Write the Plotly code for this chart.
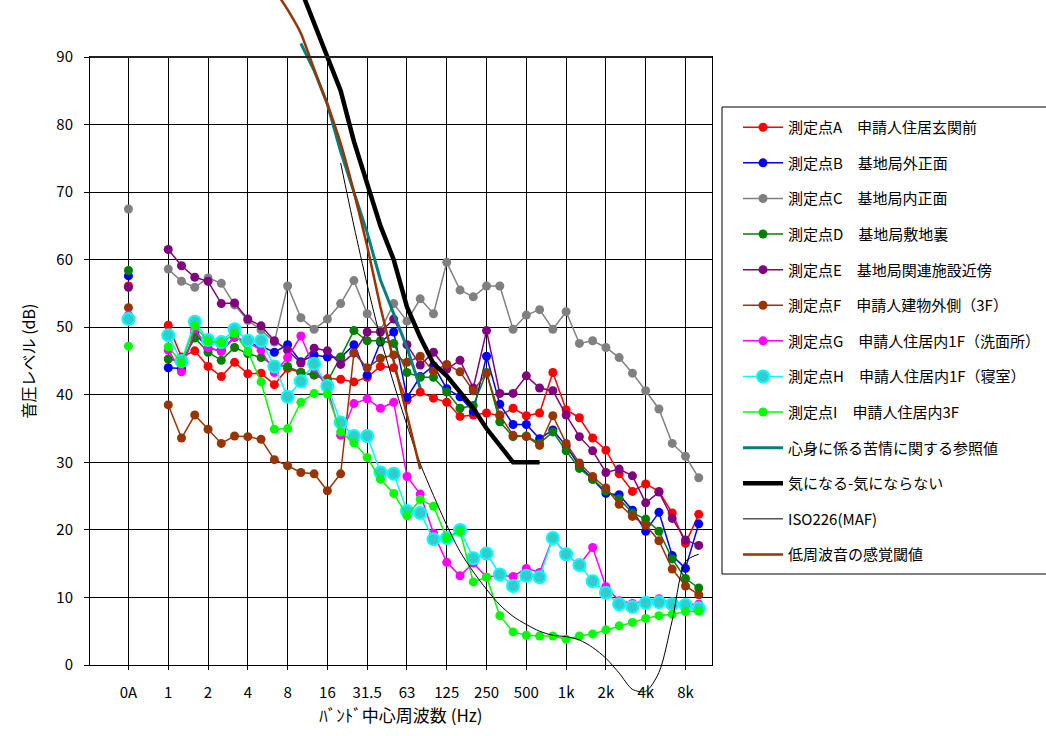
import plotly.graph_objects as go

# ---------------- data ----------------
bands = ["1", "1.25", "1.6", "2", "2.5", "3.15", "4", "5", "6.3", "8", "10", "12.5",
         "16", "20", "25", "31.5", "40", "50", "63", "80", "100", "125", "160", "200",
         "250", "315", "400", "500", "630", "800", "1k", "1.25k", "1.6k", "2k", "2.5k",
         "3.15k", "4k", "5k", "6.3k", "8k", "10k"]
tick_labels = ["0A", "1", "2", "4", "8", "16", "31.5", "63", "125", "250", "500",
               "1k", "2k", "4k", "8k"]

# first value = 0A (overall), then the 41 one-third octave bands
pt_A = [56.1, 50.3, 45.6, 46.5, 44.2, 42.7, 44.8, 43.1, 43.2, 41.5, 43.9, 43.3, 42.9, 42.4,
        42.3, 41.9, 42.6, 44.2, 44.0, 39.2, 40.4, 39.5, 38.9, 36.8, 37.0, 37.3, 36.9, 38.0,
        36.9, 37.3, 43.3, 37.8, 36.6, 33.6, 31.8, 28.3, 25.7, 26.8, 25.7, 22.5, 18.0, 22.3]
pt_B = [57.6, 44.0, 43.9, 49.2, 46.8, 46.6, 48.5, 47.6, 47.2, 46.3, 47.4, 44.9, 45.9, 45.6,
        45.5, 47.4, 42.9, 47.8, 49.3, 39.6, 42.7, 44.3, 40.9, 39.7, 37.5, 45.7, 38.6, 35.6,
        35.6, 33.5, 34.8, 32.4, 29.5, 27.5, 25.4, 25.2, 22.9, 19.8, 22.6, 16.2, 14.3, 20.9]
pt_C = [67.5, 58.6, 56.8, 55.9, 57.3, 56.5, 53.3, 51.0, 49.6, 47.8, 56.1, 51.4, 49.7, 51.2,
        53.5, 56.9, 52.0, 49.5, 53.5, 50.9, 54.2, 52.0, 59.6, 55.5, 54.5, 56.1, 56.1, 49.7,
        51.8, 52.6, 49.7, 52.3, 47.6, 48.0, 47.0, 45.5, 43.2, 40.6, 37.9, 32.8, 30.9, 27.7]
pt_D = [58.4, 45.3, 44.9, 48.4, 46.3, 45.1, 47.0, 46.1, 45.5, 44.4, 44.2, 43.3, 43.0, 42.0,
        45.6, 49.5, 48.0, 48.0, 47.6, 43.3, 42.6, 42.6, 40.4, 38.0, 38.4, 43.3, 36.0, 33.8,
        33.9, 32.8, 34.5, 31.7, 29.1, 27.5, 25.8, 24.6, 22.5, 21.6, 19.8, 15.7, 12.8, 11.4]
pt_E = [55.9, 61.5, 59.1, 57.4, 56.8, 53.5, 53.6, 51.2, 50.2, 48.0, 46.6, 44.7, 46.9, 46.5,
        44.5, 46.2, 49.3, 49.3, 51.2, 47.4, 44.4, 46.3, 43.8, 45.1, 41.0, 49.5, 40.2, 40.2,
        42.8, 41.0, 40.6, 37.0, 33.8, 31.7, 28.5, 29.0, 28.0, 24.0, 25.6, 21.7, 18.5, 17.7]
pt_F = [52.9, 38.5, 33.6, 37.0, 34.9, 32.8, 33.9, 33.8, 33.4, 30.4, 29.5, 28.5, 28.3, 25.8,
        28.3, 46.2, 44.0, 45.4, 45.9, 44.8, 45.7, 43.5, 44.5, 43.4, 40.6, 43.2, 37.0, 34.0,
        33.8, 32.5, 36.9, 32.8, 29.9, 27.9, 26.2, 23.8, 22.0, 20.7, 18.4, 14.2, 11.7, 10.4]
pt_G = [51.8, 46.6, 43.4, 49.7, 47.0, 46.4, 48.6, 47.8, 46.6, 43.3, 45.5, 48.7, 44.0, 41.0,
        34.0, 38.7, 39.4, 38.0, 38.9, 27.9, 25.3, 19.5, 15.2, 13.2, 15.1, 13.0, 13.3, 13.1,
        14.3, 13.7, 18.8, 16.4, 14.8, 17.4, 11.6, 9.5, 9.1, 9.5, 9.8, 9.2, 9.0, 9.0]
pt_H = [51.2, 48.8, 45.0, 50.8, 48.1, 47.8, 49.7, 48.0, 48.0, 44.2, 39.7, 42.0, 44.6, 41.3,
        35.9, 33.9, 33.9, 28.5, 28.3, 22.8, 22.5, 18.6, 18.8, 20.0, 15.8, 16.5, 13.4, 11.7,
        13.2, 13.0, 18.8, 16.4, 14.8, 12.4, 10.7, 9.0, 8.6, 9.2, 9.3, 9.0, 8.9, 8.4]
pt_I = [47.2, 47.1, 44.7, 50.2, 47.9, 47.7, 49.1, 46.4, 41.9, 34.9, 35.0, 38.9, 40.2, 40.1,
        34.5, 32.9, 30.7, 27.5, 25.4, 22.1, 24.5, 23.5, 18.8, 19.8, 12.3, 13.0, 7.3, 4.9,
        4.4, 4.3, 4.3, 3.8, 4.3, 4.6, 5.2, 5.8, 6.3, 6.9, 7.3, 7.5, 7.9, 8.0]

ref_bands = ["10", "12.5", "16", "20", "25", "31.5", "40", "50", "63", "80"]
ref_vals = [92, 88, 83, 76, 70, 64, 57, 52, 47, 41]

kini_bands = ["10", "12.5", "16", "20", "25", "31.5", "40", "50", "63", "80", "100", "125",
              "160", "200", "250", "315", "400", "500", "630"]
kini_vals = [100, 95, 90, 85, 77.5, 71.5, 65, 60, 53, 48.5, 44.6, 42.8, 40.5, 38, 35, 32.6,
             30, 30, 30]

iso_bands = ["20", "25", "31.5", "40", "50", "63", "80", "100", "125", "160", "200", "250",
             "315", "400", "500", "630", "800", "1k", "1.25k", "1.6k", "2k", "2.5k",
             "3.15k", "4k", "5k", "6.3k", "8k", "10k"]
iso_vals = [74.3, 65.0, 56.3, 48.4, 41.7, 35.5, 29.8, 25.1, 20.7, 16.8, 13.8, 11.2, 8.9,
            7.2, 6.0, 5.0, 4.4, 4.2, 3.7, 2.6, 1.0, -1.2, -3.6, -3.9, -1.1, 6.6, 15.3, 16.4]

thr_bands = ["6.3", "8", "10", "12.5", "16", "20", "25", "31.5", "40", "50", "63", "80"]
thr_vals = [100, 97, 93.5, 88.2, 83, 77.2, 70, 62, 53, 45, 37, 29]

series = [
    ("測定点A　申請人住居玄関前", pt_A, "#FF0000", "#FF0000", 9),
    ("測定点B　基地局外正面", pt_B, "#0000FF", "#0000FF", 9),
    ("測定点C　基地局内正面", pt_C, "#808080", "#808080", 9),
    ("測定点D　基地局敷地裏", pt_D, "#008000", "#008000", 9),
    ("測定点E　基地局関連施設近傍", pt_E, "#800080", "#800080", 9),
    ("測定点F　申請人建物外側（3F）", pt_F, "#993300", "#993300", 9),
    ("測定点G　申請人住居内1F（洗面所）", pt_G, "#FF00FF", "#FF00FF", 9),
    ("測定点H　申請人住居内1F（寝室）", pt_H, "#00FFFF", "#33CCCC", 12),
    ("測定点I　申請人住居内3F", pt_I, "#00FF00", "#00FF00", 9),
]

# ---------------- geometry ----------------
W, H = 1046, 736
PL, PR, PT, PB = 90, 712, 57, 665          # plot frame in px
YMIN, YMAX = 0, 90
XMIN, XMAX = -5.9, 41.0
k = (PB - PT) / (YMAX - YMIN)
OV_TOP, OV_BOT = 0, 706                    # unclipped drawing area for lines
ov_range = [YMIN - (OV_BOT - PB) / k, YMAX + (PT - OV_TOP) / k]

FONT = "Noto Sans CJK JP"


def pos(b):
    return bands.index(b)


fig = go.Figure()

# invisible trace so that the framed subplot (axes, grid, ticks) is drawn
fig.add_trace(go.Scatter(x=[None], y=[None], mode="markers", showlegend=False,
                         hoverinfo="skip", xaxis="x", yaxis="y"))

for name, vals, lc, mc, ms in series:
    xs = [-3, None] + list(range(len(bands)))
    ys = [vals[0], None] + vals[1:]
    mk = dict(size=ms, color=mc, symbol="circle",
              line=dict(color=lc if ms > 9 else mc, width=2 if ms > 9 else 0))
    fig.add_trace(go.Scatter(x=xs, y=ys, mode="lines+markers", name=name,
                             line=dict(color=lc, width=1.5), marker=mk,
                             connectgaps=False, xaxis="x2", yaxis="y2",
                             legendgroup=name))

fig.add_trace(go.Scatter(x=[pos(b) for b in ref_bands], y=ref_vals, mode="lines",
                         name="心身に係る苦情に関する参照値",
                         line=dict(color="#008080", width=3), xaxis="x2", yaxis="y2",
                         legendgroup="ref"))
fig.add_trace(go.Scatter(x=[pos(b) for b in kini_bands], y=kini_vals, mode="lines",
                         name="気になる-気にならない",
                         line=dict(color="#000000", width=4.5), xaxis="x2", yaxis="y2",
                         legendgroup="kini"))
fig.add_trace(go.Scatter(x=[pos(b) for b in iso_bands], y=iso_vals, mode="lines",
                         name="ISO226(MAF)",
                         line=dict(color="#000000", width=1, shape="spline", smoothing=0.8),
                         xaxis="x2", yaxis="y2", legendgroup="iso"))
fig.add_trace(go.Scatter(x=[pos(b) for b in thr_bands], y=thr_vals, mode="lines",
                         name="低周波音の感覚閾値",
                         line=dict(color="#993300", width=2.5, shape="spline", smoothing=0.6),
                         xaxis="x2", yaxis="y2", legendgroup="thr"))

tickvals = [-3] + [pos(t) for t in tick_labels[1:]]

fig.update_layout(
    width=W, height=H,
    margin=dict(l=0, r=0, t=0, b=0),
    paper_bgcolor="white", plot_bgcolor="rgba(0,0,0,0)",
    font=dict(family=FONT, size=15, color="#000"),
    showlegend=True,
    xaxis=dict(domain=[PL / W, PR / W], range=[XMIN, XMAX], tickvals=tickvals,
               ticktext=tick_labels, showgrid=True, gridcolor="#000", gridwidth=1,
               showline=True, linecolor="#000", linewidth=1, mirror=True,
               ticks="outside", ticklen=4, tickcolor="#000", zeroline=False,
               ticklabelstandoff=10, tickfont=dict(size=15),
               title=dict(text="ﾊﾞﾝﾄﾞ中心周波数 (Hz)", font=dict(size=17), standoff=9),
               automargin=False, fixedrange=True),
    yaxis=dict(domain=[(H - PB) / H, (H - PT) / H], range=[YMIN, YMAX],
               tickvals=list(range(0, 91, 10)), showgrid=True, gridcolor="#000",
               gridwidth=1, showline=True, linecolor="#000", linewidth=1, mirror=True,
               ticks="outside", ticklen=5, tickcolor="#000", zeroline=False,
               ticklabelstandoff=8, tickfont=dict(size=15),
               title=dict(text="音圧レベル (dB)", font=dict(size=16), standoff=16),
               automargin=False, fixedrange=True),
    xaxis2=dict(domain=[PL / W, PR / W], range=[XMIN, XMAX], visible=False,
                anchor="y2", fixedrange=True),
    yaxis2=dict(domain=[(H - OV_BOT) / H, (H - OV_TOP) / H], range=ov_range,
                visible=False, anchor="x2", fixedrange=True),
    legend=dict(x=738 / W, y=1 - 111 / H, xanchor="left", yanchor="top",
                borderwidth=0, bgcolor="rgba(0,0,0,0)",
                font=dict(family=FONT, size=15), tracegroupgap=13.1,
                traceorder="grouped", itemwidth=40),
    shapes=[dict(type="rect", xref="paper", yref="paper", x0=722 / W, x1=1.2,
                 y0=1 - 574 / H, y1=1 - 107 / H, line=dict(color="#000", width=1),
                 fillcolor="white", layer="below"),
            dict(type="line", xref="paper", yref="paper", x0=PL / W, x1=PR / W,
                 y0=1 - PT / H, y1=1 - PT / H, line=dict(color="#222", width=2))],
)

fig.write_html("out.html", config={"displayModeBar": False},
               post_script="document.body.style.margin='0';")
